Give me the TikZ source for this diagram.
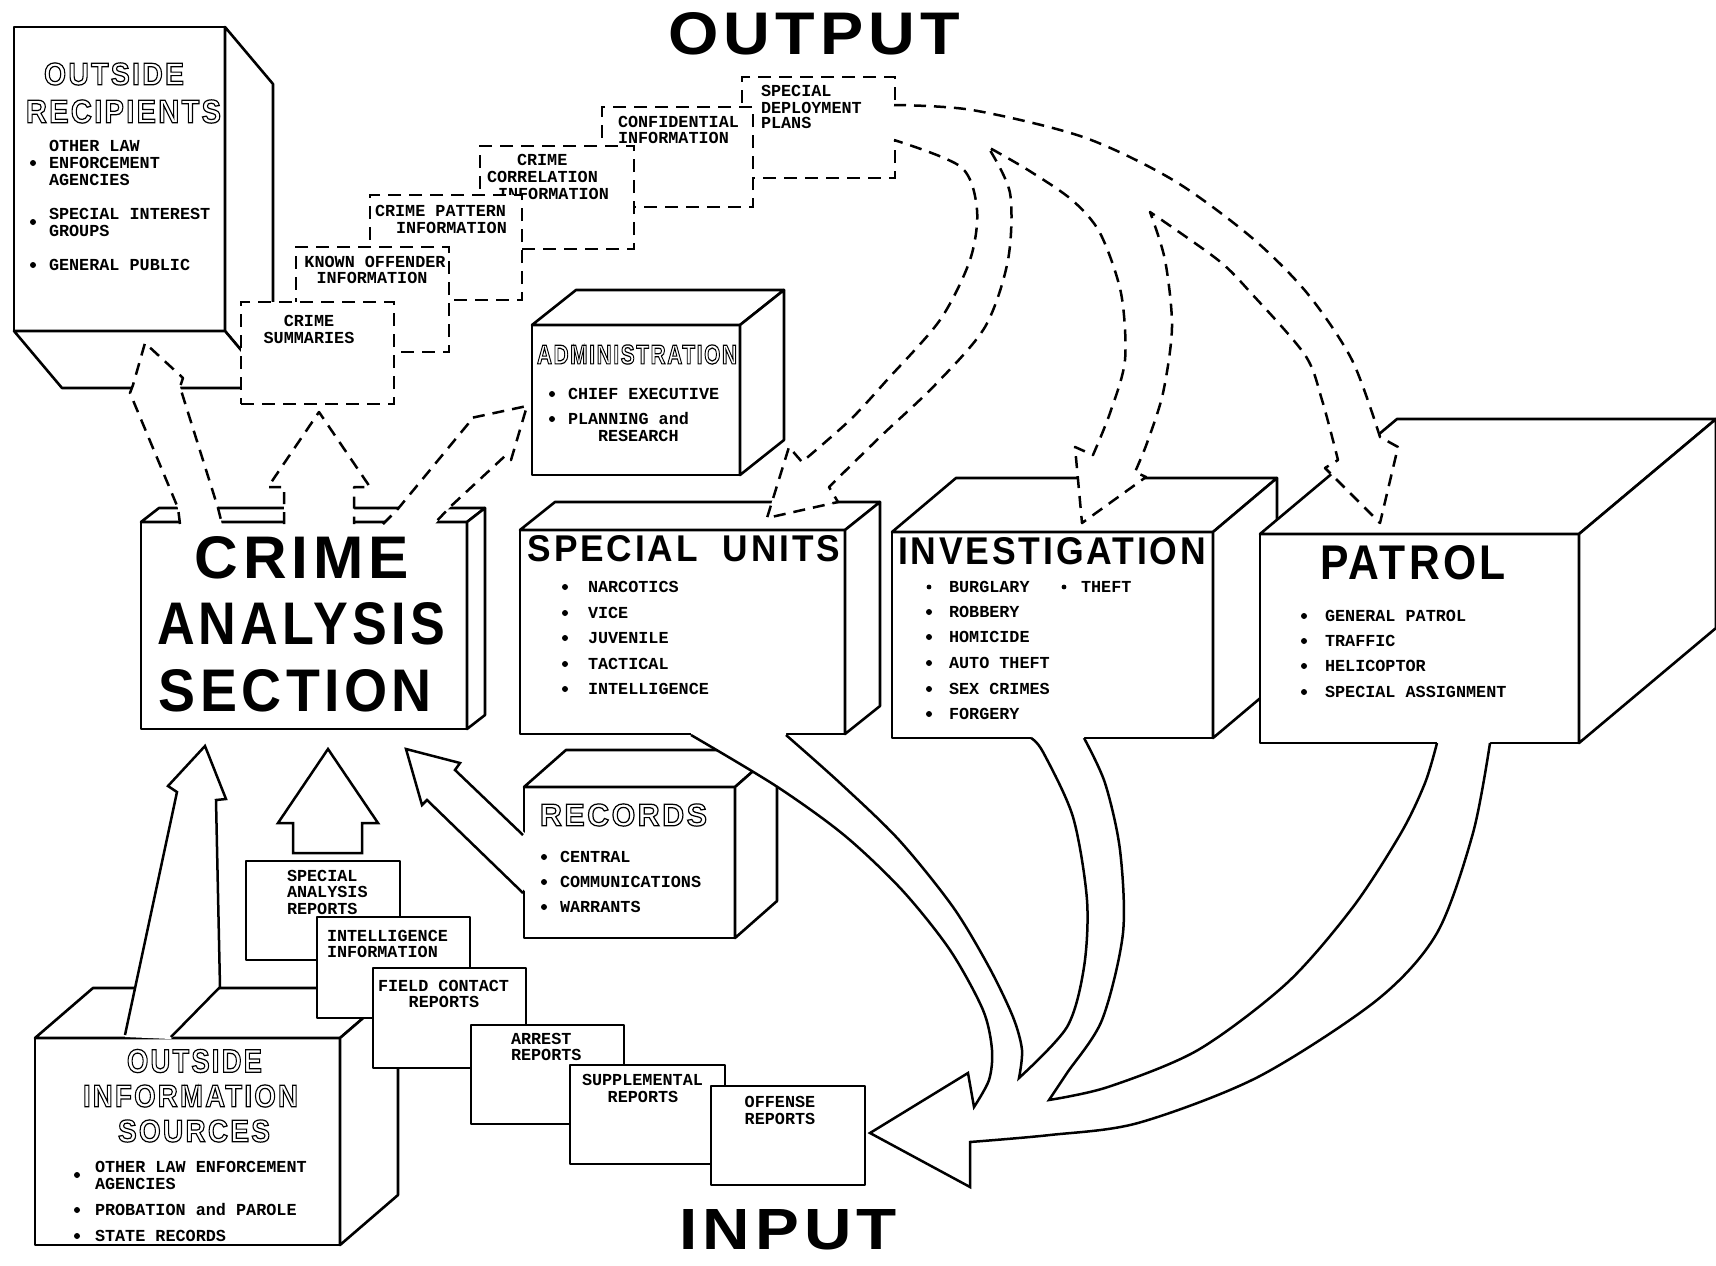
\documentclass[tikz,border=0pt]{standalone}
\usepackage{fontspec}
\usepackage{graphicx}
\usetikzlibrary{calc}
\newfontfamily\twfont{Liberation Mono}
\newfontfamily\hdfont{Liberation Sans}[LetterSpace=8]
% stencil-like solid headings and outlined headings, fitted to a given width and cap height
\newcommand\stencil[4]{\resizebox{#1pt}{#2pt}{\hdfont\bfseries\fontsize{#3}{#3}\selectfont #4}}
\newcommand\hollow[4]{\resizebox{#1pt}{#2pt}{\hdfont\bfseries\fontsize{#3}{#3}\selectfont\special{pdf:literal direct 1 Tr 1.2 w}#4}}

\tikzset{
  face/.style={draw, fill=white, line width=2.6pt, line join=round},
  dface/.style={draw, fill=white, line width=2.6pt, dash pattern=on 13pt off 8pt},
  darr/.style={draw, line width=2.5pt, dash pattern=on 12pt off 8pt, line join=round},
  sarr/.style={draw, line width=2.5pt, line join=miter},
  tw/.style={font=\twfont\bfseries\fontsize{16.8}{17}\selectfont, inner sep=0pt, outer sep=0pt, anchor=base west},
  hd/.style={inner sep=0pt, outer sep=0pt, anchor=center},
}

% front face of a box as a named node
\newcommand\frontface[6]{%
  \node[#1, rectangle, inner sep=0pt, outer sep=0pt,
        minimum width={(#5-#3)*1pt}, minimum height={(#6-#4)*1pt}]
        (#2) at ({(#3+#5)/2},{(#4+#6)/2}) {};}
% box seen from above right: top and right faces
\newcommand\cubeup[7]{%
  \frontface{face}{#1}{#2}{#3}{#4}{#5}%
  \draw[face] (#1.north west) -- ++(#6,#7) -- ([shift={(#6,#7)}]#1.north east) -- (#1.north east) -- cycle;%
  \draw[face] (#1.north east) -- ++(#6,#7) -- ([shift={(#6,#7)}]#1.south east) -- (#1.south east) -- cycle;%
}
\newcommand\tx[4]{\node[tw] (#1) at (#2,#3) {#4};}
\newcommand\txc[4]{\node[tw, anchor=base] (#1) at (#2,#3) {#4};}
\newcommand\bul[2]{\fill (#1,#2) circle[radius=3pt];}

% outline of the dashed fan leaving the deployment plans
\def\fanpath{(894,105) -- plot[smooth] coordinates {(894,105) (972,110) (1083,137) (1173,180) (1251,237) (1307,293) (1352,360) (1380,437)}
  -- (1398,447) -- (1380,523) -- (1325,468) -- (1338,460)
  -- plot[smooth] coordinates {(1338,460) (1322,400) (1305,355) (1251,293) (1218,260) (1150,212)}
  -- plot[smooth] coordinates {(1150,212) (1165,260) (1172,327) (1163,393) (1147,443) (1135,472)}
  -- (1146,477) -- (1082,523) -- (1075,447) -- (1093,455)
  -- plot[smooth] coordinates {(1093,455) (1110,413) (1125,360) (1121,293) (1100,233) (1072,200) (1028,170) (988,147)}
  -- plot[smooth] coordinates {(988,147) (1010,193) (1008,260) (985,327) (935,385) (880,437) (829,487)}
  -- (838,502) -- (767,518) -- (789,447) -- (802,462)
  -- plot[smooth] coordinates {(802,462) (850,420) (887,380) (940,320) (970,260) (977,210) (961,167) (894,140)}}

\begin{document}
\begin{tikzpicture}[x=1pt, y=-1pt]
\useasboundingbox (0,0) rectangle (1716,1266);
\fill[white] (0,0) rectangle (1716,1266);

% ---------- outside recipients ----------
\frontface{face}{orF}{14}{27}{225}{331}
\draw[face] (orF.north east) -- ++(48,57) -- ([shift={(48,57)}]orF.south east) -- (orF.south east) -- cycle;
\draw[face] (orF.south west) -- ++(48,57) -- ([shift={(48,57)}]orF.south east) -- (orF.south east) -- cycle;
\node[hd] (orT1) at (114,74) {\hollow{140}{22}{31}{OUTSIDE}};
\node[hd] (orT2) at (123.5,111.5) {\hollow{195}{23}{32}{RECIPIENTS}};
\bul{33}{163} \bul{33}{222} \bul{33}{265}
\tx{or1}{49}{151}{OTHER LAW}
\tx{or2}{49}{168}{ENFORCEMENT}
\tx{or3}{49}{185}{AGENCIES}
\tx{or4}{49}{219}{SPECIAL INTEREST}
\tx{or5}{49}{236}{GROUPS}
\tx{or6}{49}{270}{GENERAL PUBLIC}

% ---------- output products (dashed stack) ----------
\frontface{dface}{sdp}{742}{77}{895}{178}
\tx{sd1}{761}{96}{SPECIAL}
\tx{sd2}{761}{113}{DEPLOYMENT}
\tx{sd3}{761}{128}{PLANS}
\frontface{dface}{cfi}{602}{107}{753}{207}
\tx{cf1}{618}{127}{CONFIDENTIAL}
\tx{cf2}{618}{143}{INFORMATION}
\frontface{dface}{cci}{480}{146}{634}{249}
\tx{cc1}{517}{165}{CRIME}
\tx{cc2}{487}{182}{CORRELATION}
\tx{cc3}{498}{199}{INFORMATION}
\frontface{dface}{cpi}{370}{195}{522}{300}
\tx{cp1}{375}{216}{CRIME PATTERN}
\tx{cp2}{396}{233}{INFORMATION}
\frontface{dface}{koi}{296}{247}{449}{352}
\txc{ko1}{375}{267}{KNOWN OFFENDER}
\txc{ko2}{372}{283}{INFORMATION}
\frontface{dface}{csm}{241}{302}{394}{404}
\txc{cs1}{309}{326}{CRIME}
\txc{cs2}{309}{343}{SUMMARIES}

% ---------- administration ----------
\cubeup{adm}{532}{325}{740}{475}{44}{-35}
\node[hd] (admT) at (637,354.5) {\hollow{200}{19}{27}{ADMINISTRATION}};
\bul{552}{394} \bul{552}{419}
\tx{ad1}{568}{399}{CHIEF EXECUTIVE}
\tx{ad2}{568}{424}{PLANNING and}
\tx{ad3}{598}{441}{RESEARCH}

% ---------- crime analysis section ----------
\cubeup{cas}{141}{522}{467}{729}{18}{-14}
\node[hd] (casT1) at (302,557.5) {\stencil{214}{42}{58}{CRIME}};
\node[hd] (casT2) at (301,624) {\stencil{288}{42}{58}{ANALYSIS}};
\node[hd] (casT3) at (295.5,691) {\stencil{273}{42}{58}{SECTION}};

% dashed arrows leaving the section
\fill[white] (180,525) -- (178,508) -- (130,393) -- (133,385) -- (145,343) -- (183,378) -- (180,387) -- (218,508) -- (222,525) -- cycle;
\draw[darr] (180,524) -- (178,508) -- (130,393) -- (133,385) -- (145,343) -- (183,378) -- (180,387) -- (218,508) -- (222,524);
\fill[white] (284,525) -- (284,487) -- (268,487) -- (319,412) -- (370,487) -- (354,487) -- (354,525) -- cycle;
\draw[darr] (284,524) -- (284,487) -- (268,487) -- (319,412) -- (370,487) -- (354,487) -- (354,524);
\fill[white] (383,525) -- (397,510) -- (468,424) -- (471,418) -- (527,406) -- (511,460) -- (505,456) -- (450,507) -- (434,525) -- cycle;
\draw[darr] (383,524) -- (397,510) -- (468,424) -- (471,418) -- (527,406) -- (511,460) -- (505,456) -- (450,507) -- (434,524);

% ---------- operating units ----------
\cubeup{spu}{520}{530}{845}{734}{35}{-28}
\node[hd] (spuT) at (684,548.5) {\stencil{312}{26}{37}{SPECIAL\ \ UNITS}};
\bul{565}{587} \bul{565}{613} \bul{565}{638} \bul{565}{664} \bul{565}{689}
\tx{su1}{588}{592}{NARCOTICS}
\tx{su2}{588}{618}{VICE}
\tx{su3}{588}{643}{JUVENILE}
\tx{su4}{588}{669}{TACTICAL}
\tx{su5}{588}{694}{INTELLIGENCE}

\cubeup{inv}{892}{532}{1213}{738}{64}{-54}
\node[hd] (invT) at (1052,551) {\stencil{308}{27}{38}{INVESTIGATION}};
\fill (929,587) circle[radius=2.4pt]; \fill (1064,587) circle[radius=2.4pt];
\bul{929}{612} \bul{929}{637} \bul{929}{663} \bul{929}{689} \bul{929}{714}
\tx{iv1}{949}{592}{BURGLARY}
\tx{iv7}{1081}{592}{THEFT}
\tx{iv2}{949}{617}{ROBBERY}
\tx{iv3}{949}{642}{HOMICIDE}
\tx{iv4}{949}{668}{AUTO THEFT}
\tx{iv5}{949}{694}{SEX CRIMES}
\tx{iv6}{949}{719}{FORGERY}

\cubeup{pat}{1260}{534}{1579}{743}{137}{-115}
\node[hd] (patT) at (1413,563) {\stencil{186}{34}{47}{PATROL}};
\bul{1304}{616} \bul{1304}{641} \bul{1304}{666} \bul{1304}{692}
\tx{pa1}{1325}{621}{GENERAL PATROL}
\tx{pa2}{1325}{646}{TRAFFIC}
\tx{pa3}{1325}{671}{HELICOPTOR}
\tx{pa4}{1325}{697}{SPECIAL ASSIGNMENT}

% dashed fan from the deployment plans to the three units
\fill[white] \fanpath -- (892,140) -- (892,105) -- cycle;
\draw[darr] \fanpath;

% ---------- records ----------
\cubeup{rec}{524}{787}{735}{938}{42}{-37}
\node[hd] (recT) at (623.5,815) {\hollow{167}{22}{31}{RECORDS}};
\bul{544}{857} \bul{544}{882} \bul{544}{907}
\tx{rc1}{560}{862}{CENTRAL}
\tx{rc2}{560}{887}{COMMUNICATIONS}
\tx{rc3}{560}{912}{WARRANTS}
\fill[white] (527,835) -- (455,770) -- (460,763) -- (406,749) -- (422,805) -- (427,800) -- (527,893) -- cycle;
\draw[sarr] (523,835) -- (455,770) -- (460,763) -- (406,749) -- (422,805) -- (427,800) -- (523,893);

% ---------- outside information sources ----------
\cubeup{ois}{35}{1038}{340}{1245}{58}{-50}
\node[hd] (oisT1) at (194.5,1061) {\hollow{135}{23}{32}{OUTSIDE}};
\node[hd] (oisT2) at (190.5,1096) {\hollow{215}{22}{31}{INFORMATION}};
\node[hd] (oisT3) at (194,1131) {\hollow{152}{22}{31}{SOURCES}};
\bul{77}{1175} \bul{77}{1210} \bul{77}{1236}
\tx{os1}{95}{1172}{OTHER LAW ENFORCEMENT}
\tx{os2}{95}{1189}{AGENCIES}
\tx{os3}{95}{1215}{PROBATION and PAROLE}
\tx{os4}{95}{1241}{STATE RECORDS}
\fill[white] (125,1037) -- (177,792) -- (168,786) -- (205,746) -- (226,799) -- (216,800) -- (220,987) -- (171,1039) -- cycle;
\draw[sarr] (125,1035) -- (177,792) -- (168,786) -- (205,746) -- (226,799) -- (216,800) -- (220,987) -- (171,1037);

% arrow from the special analysis reports
\draw[sarr, fill=white] (293,853) -- (293,823) -- (278,823) -- (328,749) -- (378,823) -- (362,823) -- (362,853) -- cycle;

% ---------- reports stack ----------
\frontface{face}{sar}{246}{861}{400}{960}
\tx{sa1}{287}{881}{SPECIAL}
\tx{sa2}{287}{897}{ANALYSIS}
\tx{sa3}{287}{914}{REPORTS}
\frontface{face}{inf}{317}{917}{470}{1018}
\tx{in1}{327}{941}{INTELLIGENCE}
\tx{in2}{327}{957}{INFORMATION}
\frontface{face}{fcr}{373}{968}{526}{1068}
\tx{fc1}{378}{991}{FIELD CONTACT}
\txc{fc2}{444}{1007}{REPORTS}
\frontface{face}{arr}{471}{1025}{624}{1124}
\tx{ar1}{511}{1044}{ARREST}
\tx{ar2}{511}{1060}{REPORTS}
\frontface{face}{sup}{570}{1065}{725}{1164}
\tx{sp1}{582}{1085}{SUPPLEMENTAL}
\txc{sp2}{643}{1102}{REPORTS}
\frontface{face}{off}{711}{1086}{865}{1185}
\txc{of1}{780}{1107}{OFFENSE}
\txc{of2}{780}{1124}{REPORTS}

% large solid arrow from the units back to the reports: white body first
\fill[white] (691,731) -- (691,735)
  -- plot[smooth] coordinates {(691,735) (776,786) (844,835) (902,890) (950,950) (983,1010) (992,1050) (989,1080) (974,1107)}
  -- (968,1073) -- (870,1133) -- (970,1187) -- (970,1142)
  -- plot[smooth] coordinates {(970,1142) (1050,1135) (1138,1123) (1258,1077) (1377,1000) (1437,933) (1473,833) (1490,743)}
  -- (1490,739) -- (1437,739) -- (1437,743)
  -- plot[smooth] coordinates {(1437,743) (1425,783) (1401,833) (1353,907) (1287,983) (1198,1050) (1108,1087) (1049,1100)}
  -- plot[smooth] coordinates {(1049,1100) (1067,1073) (1102,1020) (1123,933) (1120,850) (1105,783) (1084,738)}
  -- (1084,734) -- (1031,734) -- (1031,738)
  -- plot[smooth] coordinates {(1031,738) (1043,752) (1073,817) (1087,900) (1084,967) (1067,1027) (1019,1078)}
  -- plot[smooth] coordinates {(1019,1078) (1022,1050) (1013,1017) (989,967) (953,907) (899,840) (840,783) (786,735)}
  -- (786,731) -- cycle;
% its outline, open where it leaves the three boxes
\draw[sarr] plot[smooth] coordinates {(691,735) (776,786) (844,835) (902,890) (950,950) (983,1010) (992,1050) (989,1080) (974,1107)}
  -- (968,1073) -- (870,1133) -- (970,1187) -- (970,1142)
  -- plot[smooth] coordinates {(970,1142) (1050,1135) (1138,1123) (1258,1077) (1377,1000) (1437,933) (1473,833) (1490,743)};
\draw[sarr] plot[smooth] coordinates {(1437,743) (1425,783) (1401,833) (1353,907) (1287,983) (1198,1050) (1108,1087) (1049,1100)}
  -- plot[smooth] coordinates {(1049,1100) (1067,1073) (1102,1020) (1123,933) (1120,850) (1105,783) (1084,738)};
\draw[sarr] plot[smooth] coordinates {(1031,738) (1043,752) (1073,817) (1087,900) (1084,967) (1067,1027) (1019,1078)}
  -- plot[smooth] coordinates {(1019,1078) (1022,1050) (1013,1017) (989,967) (953,907) (899,840) (840,783) (786,735)};

% ---------- titles ----------
\node[hd] (outT) at (814,34) {\stencil{292}{42}{58}{OUTPUT}};
\node[hd] (inT) at (788,1230) {\stencil{218}{40}{55}{INPUT}};
\end{tikzpicture}
\end{document}
